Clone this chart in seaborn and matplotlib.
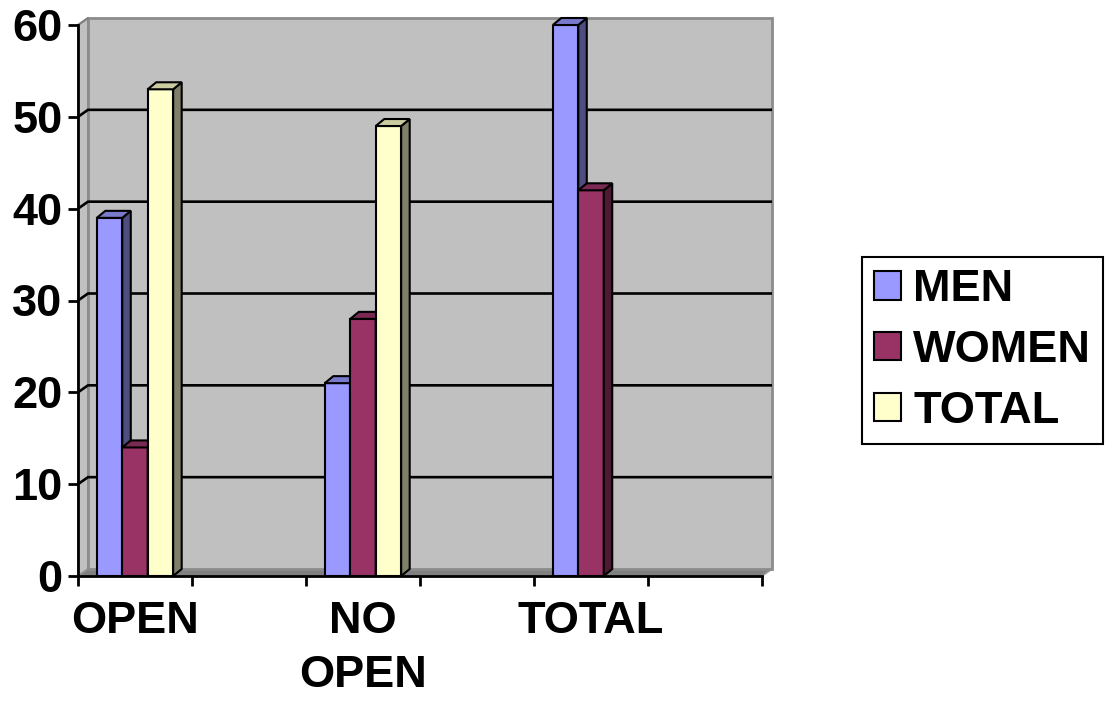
import numpy as np
import pandas as pd
import matplotlib
matplotlib.use("Agg")
import matplotlib.pyplot as plt
import matplotlib.transforms as mtransforms
from matplotlib.patches import Polygon
import seaborn as sns

# ---- data ----
categories = ["OPEN", "gap1", "NO OPEN", "gap2", "TOTAL", "gap3"]
tick_labels = ["OPEN", "", "NO\nOPEN", "", "TOTAL", ""]
series_names = ["MEN", "WOMEN", "TOTAL"]
men = [39, 21, 60]
women = [14, 28, 42]
total = [53, 49, np.nan]
data_categories = ["OPEN", "NO OPEN", "TOTAL"]
yticks = [0, 10, 20, 30, 40, 50, 60]

front_colors = ["#9999FF", "#993366", "#FFFFCC"]
top_colors = ["#7A7ACC", "#7A2952", "#CCCCA3"]
side_colors = ["#4D4D80", "#4D1A33", "#80806A"]

rows = []
for name, vals in zip(series_names, [men, women, total]):
    for c, v in zip(data_categories, vals):
        if not np.isnan(v):
            rows.append({"category": c, "series": name, "value": v})
df = pd.DataFrame(rows)

sns.set_style("white")
plt.rcParams["font.family"] = ["Liberation Sans", "DejaVu Sans"]
plt.rcParams["font.weight"] = "bold"
plt.rcParams["text.color"] = "black"
plt.rcParams["xtick.color"] = "black"
plt.rcParams["ytick.color"] = "black"
plt.rcParams["xtick.labelcolor"] = "black"
plt.rcParams["ytick.labelcolor"] = "black"

W, H = 1105, 701
fig = plt.figure(figsize=(W / 100, H / 100), dpi=100)
# front plane of axes in pixels
L, R, B, T = 78, 762, 576, 25
ax = fig.add_axes([L / W, (H - B) / H, (R - L) / W, (B - T) / H])
ax.set_facecolor("none")

sns.barplot(data=df, x="category", y="value", hue="series", order=categories,
            hue_order=series_names, palette=front_colors, width=0.67, gap=0,
            saturation=1, edgecolor="black", linewidth=1.5, errorbar=None,
            ax=ax, legend=True)

ax.set_xlim(-0.5, len(categories) - 0.5)
ax.set_ylim(0, 60)

# depth offsets (pixels)
wdx, wdy = 10, 7
bdx, bdy = 8.5, 7

ident = mtransforms.IdentityTransform()
p00 = ax.transAxes.transform((0, 0))
p01 = ax.transAxes.transform((0, 1))
p10 = ax.transAxes.transform((1, 0))
p11 = ax.transAxes.transform((1, 1))
off = np.array([wdx, wdy])

# left side wall
ax.add_patch(Polygon([p00, p01, p01 + off, p00 + off], closed=True, facecolor="#C0C0C0",
                     edgecolor="#808080", linewidth=1.2, transform=ident, clip_on=False, zorder=0.1))
# floor
ax.add_patch(Polygon([p00, p10, p10 + off, p00 + off], closed=True, facecolor="#808080",
                     edgecolor="#969696", linewidth=1.2, transform=ident, clip_on=False, zorder=0.1))
# back wall
ax.add_patch(Polygon([p00 + off, p10 + off, p11 + off, p01 + off], closed=True, facecolor="#C0C0C0",
                     edgecolor="#8C8C8C", linewidth=2, transform=ident, clip_on=False, zorder=0.12))

# gridlines on back wall + diagonal stubs on side wall
for yv in yticks[1:-1]:
    pl = ax.transData.transform((-0.5, yv))
    pr = ax.transData.transform((len(categories) - 0.5, yv))
    pts = np.array([pl, pl + off, pr + off])
    ax.plot(pts[:, 0], pts[:, 1], color="black", lw=1.9, transform=ident,
            clip_on=False, zorder=0.3, solid_capstyle="butt")
pt = ax.transData.transform((-0.5, yticks[-1]))
ax.plot([pt[0], pt[0] + wdx], [pt[1], pt[1] + wdy], color="#808080", lw=1.5,
        transform=ident, clip_on=False, zorder=0.3)

# 3D faces on bars
inv = ax.transData.inverted()
for i, cont in enumerate(ax.containers):
    for bar in cont:
        bar.set_zorder(2 + 0.1 * i)
        x0, y0 = bar.get_x(), bar.get_y()
        w, h = bar.get_width(), bar.get_height()
        if not np.isfinite(h):
            continue
        tl, tr, br = ax.transData.transform([(x0, y0 + h), (x0 + w, y0 + h), (x0 + w, y0)])
        d = np.array([bdx, bdy])
        top = inv.transform([tl, tr, tr + d, tl + d])
        side = inv.transform([tr, br, br + d, tr + d])
        ax.add_patch(Polygon(side, closed=True, facecolor=side_colors[i], edgecolor="black",
                             linewidth=1.5, clip_on=False, zorder=2 + 0.1 * i + 0.01,
                             joinstyle="miter"))
        ax.add_patch(Polygon(top, closed=True, facecolor=top_colors[i], edgecolor="black",
                             linewidth=1.5, clip_on=False, zorder=2 + 0.1 * i + 0.02,
                             joinstyle="miter"))

# axes styling
for s in ["top", "right"]:
    ax.spines[s].set_visible(False)
for s in ["left", "bottom"]:
    ax.spines[s].set_color("black")
    ax.spines[s].set_linewidth(2)
    ax.spines[s].set_zorder(3)

FS = 32.5
ax.set_yticks(yticks)
ax.set_yticklabels([str(v) for v in yticks], fontsize=FS, fontweight="bold", color="black")
ax.tick_params(axis="y", which="major", direction="out", length=7.2, width=2,
               color="black", labelcolor="black", pad=4, left=True)

ax.set_xticks(np.arange(-0.5, len(categories), 1.0))
ax.set_xticklabels([])
ax.set_xticks(np.arange(len(categories)), minor=True)
ax.set_xticklabels(tick_labels, minor=True, fontsize=FS, fontweight="bold",
                   linespacing=1.42, color="black")
ax.tick_params(axis="x", which="major", direction="out", length=7.2, width=2,
               color="black", bottom=True)
ax.tick_params(axis="x", which="minor", length=0, pad=18, labelcolor="black")
ax.set_xlabel("")
ax.set_ylabel("")
ax.grid(False)

# legend
handles, labels = ax.get_legend_handles_labels()
if ax.get_legend() is not None:
    ax.get_legend().remove()
leg = fig.legend(handles, labels, loc="upper left",
                 bbox_to_anchor=(862 / W, 1 - 257 / H),
                 prop={"family": "Liberation Sans", "weight": "bold", "size": FS},
                 frameon=True, fancybox=False, shadow=False, framealpha=1,
                 edgecolor="black", facecolor="white", handlelength=0.6,
                 handleheight=0.6, handletextpad=0.26, labelspacing=0.44,
                 borderpad=0.27, borderaxespad=0)
leg.get_frame().set_linewidth(1.5)
for hnd in leg.legend_handles:
    hnd.set_edgecolor("black")
    hnd.set_linewidth(1.5)
for txt in leg.get_texts():
    txt.set_color("black")

fig.savefig("out.png", dpi=100)
